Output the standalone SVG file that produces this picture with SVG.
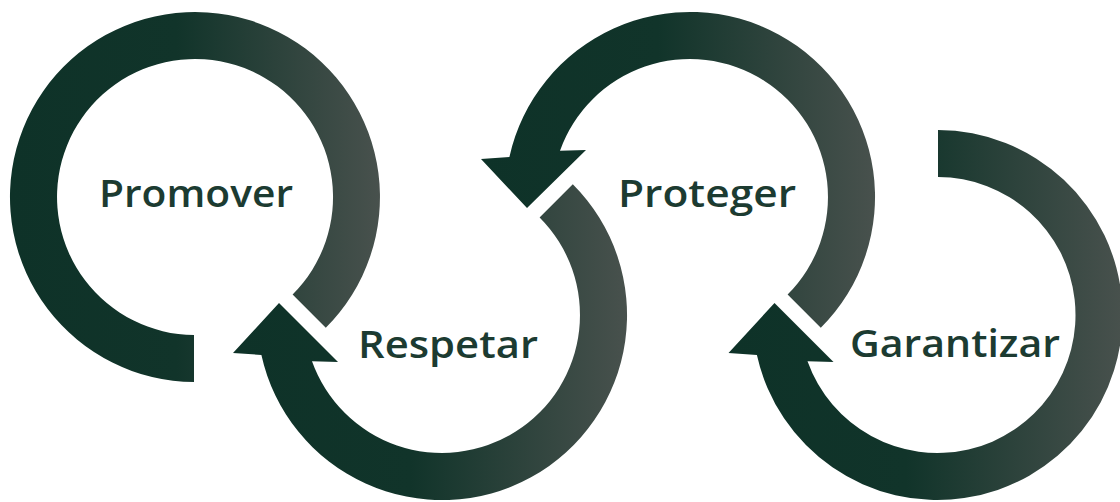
<svg xmlns="http://www.w3.org/2000/svg" width="1120" height="502" viewBox="0 0 1120 502">
  <defs>
    <linearGradient id="g" x1="0" y1="0" x2="1" y2="0">
      <stop offset="0" stop-color="#0e3228"/>
      <stop offset="0.45" stop-color="#11342a"/>
      <stop offset="1" stop-color="#48514d"/>
    </linearGradient>
    <style>
      .ring { fill: url(#g); }
      .lbl { font-family: "Open Sans", "Liberation Sans", sans-serif; font-weight: 600; font-size: 37px; fill: #1c3b31; }
    </style>
  </defs>
  <rect width="1120" height="502" fill="#ffffff"/>
  <g id="connectors">
    <path id="ring-promover" class="ring" d="M194,382 A185,185 0 1 1 325.8,327.8 L292.6,294.6 A138,138 0 1 0 194,335 Z"/>
    <path id="ring-respetar" class="ring" d="M572.8,184.2 A185,185 0 1 1 261.4,355 L233,353 L279,303 L338,362 L312,361.3 A138,138 0 1 0 539.6,217.4 Z"/>
    <path id="ring-proteger" class="ring" d="M820.8,327.8 A185,185 0 1 0 509.4,157 L481,159 L527,208 L586,150 L560,150.7 A138,138 0 1 1 787.6,294.6 Z"/>
    <path id="ring-garantizar" class="ring" d="M938,130 A185,185 0 1 1 756.9,355 L728.5,353 L774.5,303 L833.5,362 L807.5,361.3 A138,138 0 1 0 938,177 Z"/>
  </g>
  <g id="node-promover">
    <text class="lbl" x="99" y="207" textLength="194" lengthAdjust="spacingAndGlyphs">Promover</text>
  </g>
  <g id="node-respetar">
    <text class="lbl" x="358" y="358" textLength="180" lengthAdjust="spacingAndGlyphs">Respetar</text>
  </g>
  <g id="node-proteger">
    <text class="lbl" x="618" y="207" textLength="178" lengthAdjust="spacingAndGlyphs">Proteger</text>
  </g>
  <g id="node-garantizar">
    <text class="lbl" x="850" y="357" textLength="210" lengthAdjust="spacingAndGlyphs">Garantizar</text>
  </g>
</svg>
